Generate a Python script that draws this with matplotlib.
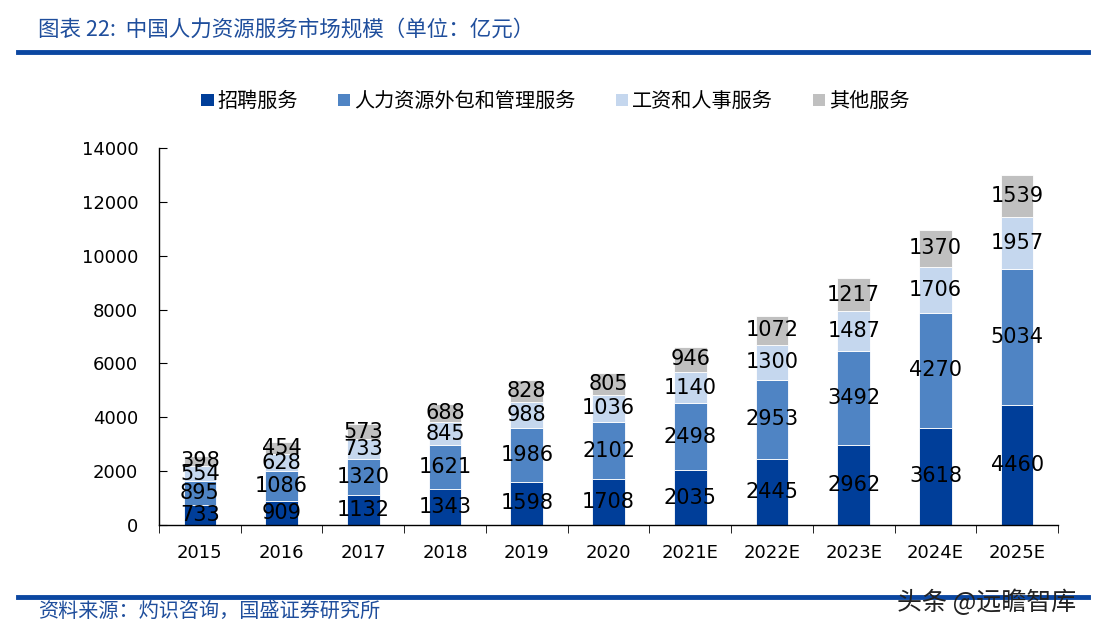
import numpy as np
import matplotlib
matplotlib.use('Agg')
import matplotlib.pyplot as plt
from matplotlib.patches import Patch

plt.rcParams['font.family'] = ['Noto Sans CJK SC', 'DejaVu Sans']

years = ['2015', '2016', '2017', '2018', '2019', '2020', '2021E', '2022E', '2023E', '2024E', '2025E']
recruit = [733, 909, 1132, 1343, 1598, 1708, 2035, 2445, 2962, 3618, 4460]
outsource = [895, 1086, 1320, 1621, 1986, 2102, 2498, 2953, 3492, 4270, 5034]
payroll = [554, 628, 733, 845, 988, 1036, 1140, 1300, 1487, 1706, 1957]
other = [398, 454, 573, 688, 828, 805, 946, 1072, 1217, 1370, 1539]

names = ['招聘服务', '人力资源外包和管理服务', '工资和人事服务', '其他服务']
colors = ['#003E99', '#4F84C4', '#C5D7EE', '#C0C0C0']
series = [recruit, outsource, payroll, other]

fig = plt.figure(figsize=(10.94, 6.35), dpi=100)
ax = fig.add_axes([159 / 1094, 110 / 635, (1058 - 159) / 1094, (525 - 148) / 635])

x = np.arange(len(years))
bottom = np.zeros(len(years))
for vals, c in zip(series, colors):
    vals = np.array(vals)
    ax.bar(x, vals, 0.4, bottom=bottom, color=c, edgecolor='white', linewidth=0.6)
    for xi, b, v in zip(x, bottom, vals):
        ax.text(xi, b + v / 2, str(v), ha='center', va='center', fontsize=15,
                family='DejaVu Sans', color='black')
    bottom += vals

ax.set_xlim(-0.5, len(years) - 0.5)
ax.set_ylim(0, 14000)
ax.set_yticks(range(0, 14001, 2000))
ax.set_xticks(x)
ax.set_xticklabels(years, fontsize=13, family='DejaVu Sans')
ax.set_xticks(np.arange(-0.5, len(years), 1), minor=True)
ax.tick_params(axis='x', which='major', length=0, pad=14)
ax.tick_params(axis='x', which='minor', length=6, direction='out', color='black')
ax.tick_params(axis='y', length=6, direction='in', labelsize=13, pad=15)
for lab in ax.get_yticklabels():
    lab.set_family('DejaVu Sans')
for s in ['top', 'right']:
    ax.spines[s].set_visible(False)
for s in ['left', 'bottom']:
    ax.spines[s].set_color('black')
    ax.spines[s].set_linewidth(1.0)

handles = [Patch(facecolor=c, edgecolor='none') for c in colors]
fig.legend(handles, names, loc='center', bbox_to_anchor=(0.508, 0.84), ncol=4,
           frameon=False, fontsize=14.5, handlelength=0.6, handleheight=0.6,
           handletextpad=0.2, columnspacing=2.0)

# title and footer
fig.text(38 / 1094, 1 - 30 / 635, '图表 22:  中国人力资源服务市场规模（单位：亿元）', fontsize=15.5,
         color='#1F4E9C', style='italic', va='center', ha='left')
fig.add_artist(plt.Line2D([18 / 1094, 1088 / 1094], [1 - 52 / 635, 1 - 52 / 635],
                          color='#0B47A1', linewidth=3.5))
fig.add_artist(plt.Line2D([18 / 1094, 1088 / 1094], [1 - 597 / 635, 1 - 597 / 635],
                          color='#0B47A1', linewidth=3.5))
fig.text(38 / 1094, 1 - 611 / 635, '资料来源：灼识咨询，国盛证券研究所', fontsize=14.5,
         color='#1F4E9C', style='italic', va='center', ha='left')
fig.text(1076 / 1094, 1 - 603 / 635, '头条 @远瞻智库', fontsize=18, color='#222222',
         va='center', ha='right')

fig.savefig('out.png', dpi=100)
